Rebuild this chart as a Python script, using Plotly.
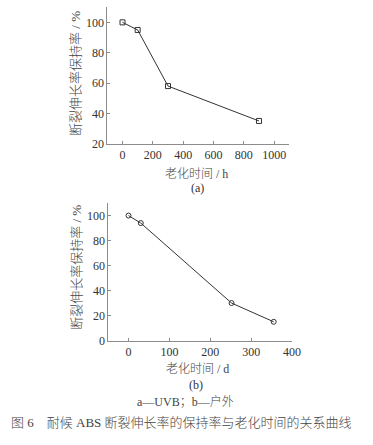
import plotly.graph_objects as go

W, H = 373, 445

# Data
uvb_time_h = [0, 100, 300, 900]
uvb_retention = [100, 95, 58, 35]
outdoor_time_d = [0, 30, 252, 355]
outdoor_retention = [100, 94, 30, 15]

ya_ticks = [20, 40, 60, 80, 100]
xa_ticks = [0, 200, 400, 600, 800, 1000]
yb_ticks = [0, 20, 40, 60, 80, 100]
xb_ticks = [0, 100, 200, 300, 400]

y_title = "断裂伸长率保持率 / %"
xa_title = "老化时间 / h"
xb_title = "老化时间 / d"
label_a = "(a)"
label_b = "(b)"
legend_note = "a—UVB；b—户外"
caption = "图 6\u3000耐候 ABS 断裂伸长率的保持率与老化时间的关系曲线"

FONT = "Liberation Serif, Times New Roman, Noto Sans CJK SC, serif"
TXT = "#333333"
CJK_TXT = "#444444"
AX = "#8c8c8c"
LINE = "#333333"

fig = go.Figure()
fig.add_trace(go.Scatter(
    x=uvb_time_h, y=uvb_retention, mode="lines+markers",
    line=dict(color=LINE, width=1),
    marker=dict(symbol="square-open", size=5, color=LINE, line=dict(width=1)),
    xaxis="x", yaxis="y", showlegend=False, hoverinfo="skip"))
fig.add_trace(go.Scatter(
    x=outdoor_time_d, y=outdoor_retention, mode="lines+markers",
    line=dict(color=LINE, width=1),
    marker=dict(symbol="circle-open", size=5, color=LINE, line=dict(width=1)),
    xaxis="x2", yaxis="y2", showlegend=False, hoverinfo="skip"))

def px(x):
    return x / W

def py(y):
    return 1 - y / H

axis_common = dict(
    showgrid=False, zeroline=False, showline=True, linecolor=AX, linewidth=1,
    ticks="inside", ticklen=3, tickcolor=AX, tickwidth=1,
    tickfont=dict(family=FONT, size=12, color=TXT),
)

fig.update_layout(
    width=W, height=H, autosize=False,
    margin=dict(l=0, r=0, t=0, b=0),
    paper_bgcolor="white", plot_bgcolor="white",
    font=dict(family=FONT, color=TXT),
    xaxis=dict(domain=[px(110), px(296)], range=[-100, 1097], tickvals=xa_ticks,
               anchor="y", **axis_common),
    yaxis=dict(domain=[py(146), py(6.7)], range=[20, 110.4], tickvals=ya_ticks,
               anchor="x", **axis_common),
    xaxis2=dict(domain=[px(111), px(299.3)], range=[-49.4, 400], tickvals=xb_ticks,
                anchor="y2", **axis_common),
    yaxis2=dict(domain=[py(346), py(206.7)], range=[0, 109.7], tickvals=yb_ticks,
                anchor="x2", **axis_common),
)

def ann(text, x, y, size, angle=0, color=CJK_TXT):
    fig.add_annotation(text=text, x=px(x), y=py(y), xref="paper", yref="paper",
                       showarrow=False, textangle=angle, xanchor="center", yanchor="middle",
                       font=dict(family=FONT, size=size, color=color, weight=300))

ann(y_title, 78, 75, 13, -90)
ann(y_title, 79, 272, 13, -90)
ann(xa_title, 201, 176.5, 12)
ann(label_a, 202, 191.5, 12, color=TXT)
ann(xb_title, 202, 374.5, 12)
ann(label_b, 201, 391.5, 12, color=TXT)
ann(legend_note, 190, 408.5, 12)
ann(caption, 186, 429, 13)

fig.write_html("out.html",
               config={"displayModeBar": False, "staticPlot": True},
               post_script="document.body.style.margin='0';document.body.style.overflow='hidden';")
